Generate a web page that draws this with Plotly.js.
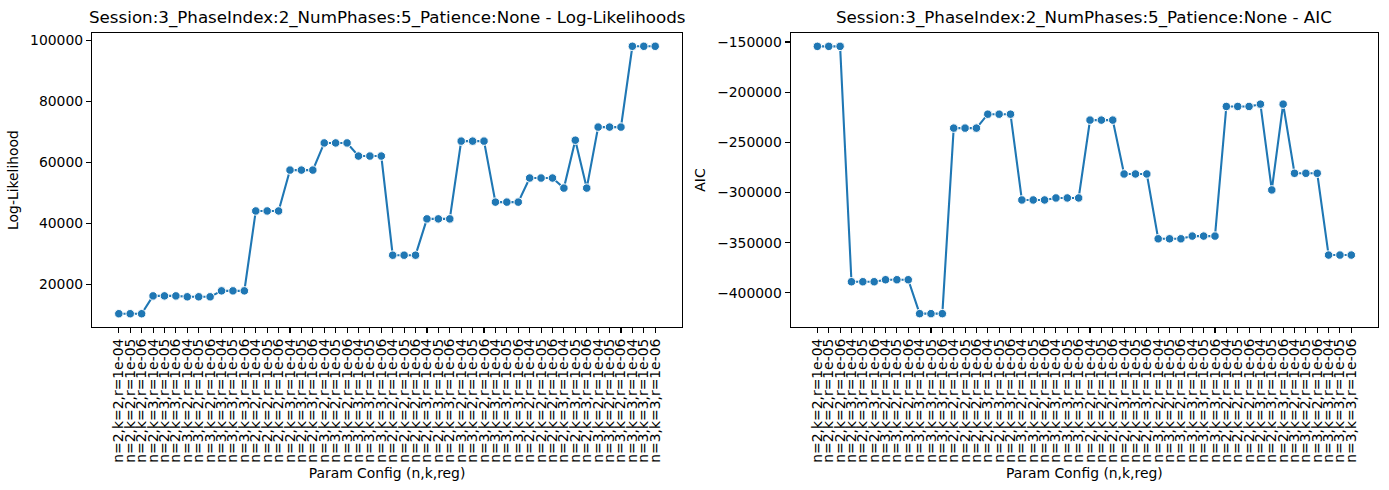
<!DOCTYPE html>
<html>
<head>
<meta charset="utf-8">
<script src="https://cdn.plot.ly/plotly-3.0.1.min.js"></script>
<style>html,body{margin:0;padding:0;background:#fff;}#chart{width:1389px;height:490px;}</style>
</head>
<body>
<div id="chart"></div>
<script>
// ---- data ----
const baseConfigs = [
  "n=2,k=2,r=1e-04", "n=2,k=2,r=1e-05", "n=2,k=2,r=1e-06",
  "n=2,k=3,r=1e-04", "n=2,k=3,r=1e-05", "n=2,k=3,r=1e-06",
  "n=3,k=2,r=1e-04", "n=3,k=2,r=1e-05", "n=3,k=2,r=1e-06",
  "n=3,k=3,r=1e-04", "n=3,k=3,r=1e-05", "n=3,k=3,r=1e-06"
];
const configLabels = [].concat(baseConfigs, baseConfigs, baseConfigs, baseConfigs);

const logLikelihood = [
  10300, 10300, 10300, 16150, 16150, 16150, 15850, 15850, 15850, 17800, 17800, 17800,
  44000, 44000, 44000, 57400, 57400, 57400, 66300, 66300, 66300, 62000, 62000, 62000,
  29500, 29500, 29500, 41400, 41400, 41400, 66900, 66900, 66900, 46900, 46900, 46900,
  54800, 54800, 54800, 51500, 67200, 51500, 71500, 71500, 71500, 98000, 98000, 98000
];
const aic = [
  -154300, -154300, -154300, -388900, -388900, -388900, -386900, -386900, -386900, -420700, -420700, -420700,
  -235800, -235800, -235800, -221900, -221900, -221900, -307400, -307400, -307400, -305400, -305400, -305400,
  -227800, -227800, -227800, -281500, -281500, -281500, -346100, -346100, -346100, -343400, -343400, -343400,
  -214200, -214200, -214200, -211900, -297400, -211900, -280800, -280800, -280800, -362300, -362300, -362300
];
const llTicks = [20000, 40000, 60000, 80000, 100000];
const aicTicks = [-400000, -350000, -300000, -250000, -200000, -150000];

// ---- plotting ----
const xIdx = configLabels.map((_, i) => i);
const blue = '#1f77b4';
const font = {family: 'DejaVu Sans, sans-serif', size: 13.9, color: '#000'};
const titleFont = {family: 'DejaVu Sans, sans-serif', size: 16.7, color: '#000'};

function trace(y, xa, ya) {
  return {
    x: xIdx, y: y, xaxis: xa, yaxis: ya, type: 'scatter', mode: 'lines+markers',
    line: {color: blue, width: 2.1},
    marker: {color: blue, size: 8.5, line: {color: '#fff', width: 1}},
    hoverinfo: 'x+y', showlegend: false
  };
}

function xaxisDef(domain, anchor) {
  return {
    domain: domain, anchor: anchor, range: [-2.35, 49.35],
    tickvals: xIdx, ticktext: configLabels, tickangle: -90,
    ticks: 'outside', ticklen: 5, tickwidth: 1.1, tickcolor: '#000',
    showline: true, linecolor: '#000', linewidth: 1.1, mirror: true,
    showgrid: false, zeroline: false, tickfont: font,
    title: {text: 'Param Config (n,k,reg)', font: font, standoff: 6}
  };
}
function yaxisDef(anchor, range, tickvals, title) {
  return {
    domain: [0, 1], anchor: anchor, range: range,
    tickvals: tickvals, tickformat: 'd',
    ticks: 'outside', ticklen: 5, tickwidth: 1.1, tickcolor: '#000',
    showline: true, linecolor: '#000', linewidth: 1.1, mirror: true,
    showgrid: false, zeroline: false, tickfont: font,
    title: {text: title, font: font, standoff: 8}
  };
}

const layout = {
  width: 1389, height: 490,
  margin: {l: 92, r: 11, t: 33, b: 163},
  paper_bgcolor: '#fff', plot_bgcolor: '#fff',
  font: font,
  xaxis: xaxisDef([0, 0.4588], 'y'),
  yaxis: yaxisDef('x', [5950, 102350], llTicks, 'Log-Likelihood'),
  xaxis2: xaxisDef([0.5433, 1.0], 'y2'),
  yaxis2: yaxisDef('x2', [-434000, -141000], aicTicks, 'AIC'),
  annotations: [
    {text: 'Session:3_PhaseIndex:2_NumPhases:5_Patience:None - Log-Likelihoods',
     xref: 'paper', yref: 'paper', x: 0.2294, y: 1.054, xanchor: 'center', yanchor: 'middle',
     showarrow: false, font: titleFont},
    {text: 'Session:3_PhaseIndex:2_NumPhases:5_Patience:None - AIC',
     xref: 'paper', yref: 'paper', x: 0.7717, y: 1.054, xanchor: 'center', yanchor: 'middle',
     showarrow: false, font: titleFont}
  ]
};

Plotly.newPlot('chart', [trace(logLikelihood, 'x', 'y'), trace(aic, 'x2', 'y2')], layout,
  {displayModeBar: false, staticPlot: true});
</script>
</body>
</html>
